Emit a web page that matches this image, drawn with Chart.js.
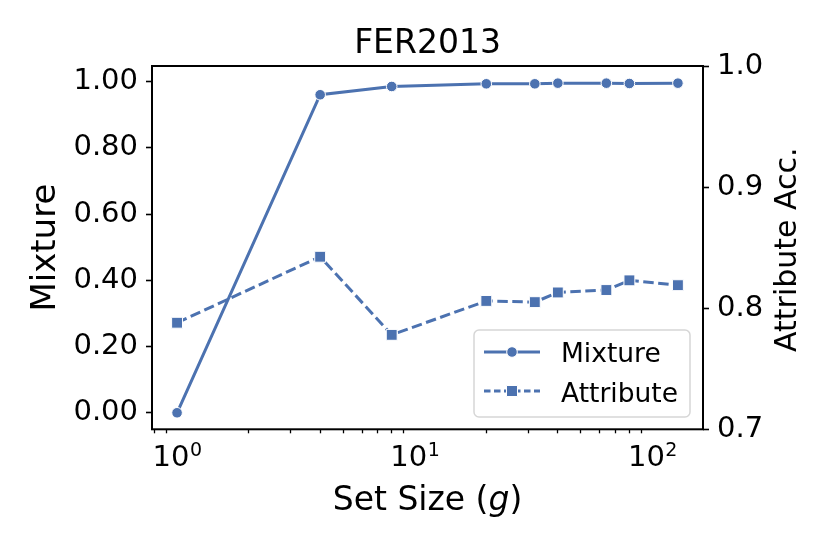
<!DOCTYPE html>
<html>
<head>
<meta charset="utf-8">
<script src="https://cdn.jsdelivr.net/npm/chart.js@4/dist/chart.umd.min.js"></script>
<style>
  html, body { margin: 0; padding: 0; background: #fff; }
</style>
</head>
<body>
<canvas id="fer" width="830" height="554"></canvas>
<script>
// values
const setSizes = [1, 4, 8, 20, 32, 40, 64, 80, 128];
const mixture = [0.000, 0.960, 0.985, 0.993, 0.993, 0.995, 0.995, 0.994, 0.995];
const attribute = [0.788, 0.8425, 0.778, 0.806, 0.805, 0.813, 0.815, 0.823, 0.819];

const leftTicks = [0, 0.2, 0.4, 0.6, 0.8, 1.0];
const rightTicks = [0.7, 0.8, 0.9, 1.0];
const xMajor = [1, 10, 100];
const xMinor = [0.8, 0.9, 2, 3, 4, 5, 6, 7, 8, 9, 20, 30, 40, 50, 60, 70, 80, 90];
const xExp = { 1: '0', 10: '1', 100: '2' };

const blue = '#4c72b0';
const FONT = '"DejaVu Sans"';

Chart.defaults.font.family = 'DejaVu Sans';
Chart.defaults.color = '#000';

const pts = (ys) => setSizes.map((x, i) => ({ x: x, y: ys[i] }));

// frame, titles, log tick labels and legend, matplotlib style
const decor = {
  id: 'decor',
  afterDraw(chart) {
    const { ctx, chartArea: a } = chart;
    const cx = (a.left + a.right) / 2;
    const cy = (a.top + a.bottom) / 2;
    ctx.save();
    ctx.strokeStyle = '#000';
    ctx.lineWidth = 2;
    ctx.strokeRect(a.left, a.top, a.right - a.left, a.bottom - a.top);

    ctx.fillStyle = '#000';
    ctx.textBaseline = 'alphabetic';
    ctx.textAlign = 'left';

    // 10^n labels on the log axis
    const xs = chart.scales.x;
    xMajor.forEach(v => {
      const px = xs.getPixelForValue(v);
      ctx.font = '29px ' + FONT;
      const wb = ctx.measureText('10').width;
      ctx.font = '19px ' + FONT;
      const we = ctx.measureText(xExp[v]).width;
      const x0 = px - (wb + we) / 2;
      ctx.font = '29px ' + FONT;
      ctx.fillText('10', x0, 466);
      ctx.font = '19px ' + FONT;
      ctx.fillText(xExp[v], x0 + wb + 0.5, 456);
    });

    ctx.textAlign = 'center';
    ctx.font = '33px ' + FONT;
    ctx.fillText('FER2013', cx, 53);

    // x title with italic g
    const normal = '33px ' + FONT, italic = 'italic 33px ' + FONT;
    ctx.textAlign = 'left';
    ctx.font = normal;
    const w1 = ctx.measureText('Set Size (').width;
    const w3 = ctx.measureText(')').width;
    ctx.font = italic;
    const w2 = ctx.measureText('g').width;
    let x = cx - (w1 + w2 + w3) / 2;
    ctx.font = normal; ctx.fillText('Set Size (', x, 510); x += w1;
    ctx.font = italic; ctx.fillText('g', x, 510); x += w2;
    ctx.font = normal; ctx.fillText(')', x, 510);

    ctx.textAlign = 'center';
    ctx.save();
    ctx.translate(55, cy);
    ctx.rotate(-Math.PI / 2);
    ctx.font = '34px ' + FONT;
    ctx.fillText('Mixture', 0, 0);
    ctx.restore();

    ctx.save();
    ctx.translate(796, cy + 2);
    ctx.rotate(-Math.PI / 2);
    ctx.font = '30px ' + FONT;
    ctx.fillText('Attribute Acc.', 0, 0);
    ctx.restore();

    // legend
    ctx.beginPath();
    ctx.roundRect(474, 330, 216, 87, 5);
    ctx.fillStyle = 'rgba(255,255,255,0.8)';
    ctx.fill();
    ctx.strokeStyle = '#d6d6d6';
    ctx.lineWidth = 1.5;
    ctx.stroke();

    ctx.strokeStyle = blue;
    ctx.fillStyle = blue;
    ctx.lineWidth = 3;
    ctx.beginPath(); ctx.moveTo(484, 352); ctx.lineTo(540, 352); ctx.stroke();
    ctx.setLineDash([6.5, 3.5]);
    ctx.beginPath(); ctx.moveTo(484, 391); ctx.lineTo(540, 391); ctx.stroke();
    ctx.setLineDash([]);
    ctx.strokeStyle = '#fff';
    ctx.lineWidth = 1;
    ctx.beginPath(); ctx.arc(512, 352, 5.3, 0, Math.PI * 2); ctx.fill(); ctx.stroke();
    ctx.beginPath(); ctx.rect(506.5, 385.5, 11, 11); ctx.fill(); ctx.stroke();

    ctx.fillStyle = '#000';
    ctx.textAlign = 'left';
    ctx.font = '26.5px ' + FONT;
    ctx.fillText('Mixture', 561, 361.5);
    ctx.fillText('Attribute', 561, 401.5);
    ctx.restore();
  }
};

new Chart(document.getElementById('fer'), {
  type: 'line',
  data: {
    datasets: [
      {
        label: 'Mixture',
        data: pts(mixture),
        yAxisID: 'y',
        order: 1,
        borderColor: blue,
        borderWidth: 3,
        pointStyle: 'circle',
        pointRadius: 5.3,
        pointBackgroundColor: blue,
        pointBorderColor: '#fff',
        pointBorderWidth: 1,
        tension: 0
      },
      {
        label: 'Attribute',
        data: pts(attribute),
        yAxisID: 'y1',
        order: 0,
        borderColor: blue,
        borderWidth: 3,
        borderDash: [10.5, 4.5],
        pointStyle: 'rect',
        pointRadius: 7.7,
        pointBackgroundColor: blue,
        pointBorderColor: '#fff',
        pointBorderWidth: 1,
        tension: 0
      }
    ]
  },
  options: {
    responsive: false,
    animation: false,
    events: [],
    layout: { padding: { top: 66, left: 0, right: 0, bottom: 0 } },
    plugins: {
      legend: { display: false },
      tooltip: { enabled: false }
    },
    scales: {
      x: {
        type: 'logarithmic',
        min: 0.7845,
        max: 163.2,
        border: { display: false },
        grid: {
          drawOnChartArea: false,
          tickLength: 4,
          tickWidth: 1.3,
          tickColor: (c) => xMajor.includes(c.tick && c.tick.value) ? 'rgba(0,0,0,0)' : '#000'
        },
        afterBuildTicks: (s) => {
          s.ticks = [...xMinor, ...xMajor].sort((p, q) => p - q).map(v => ({ value: v, major: xMajor.includes(v) }));
        },
        afterFit: (s) => { s.height = 124.7; },
        ticks: {
          autoSkip: false,
          maxRotation: 0,
          padding: 6,
          font: { size: 28 },
          callback: () => ''
        }
      },
      y: {
        position: 'left',
        min: -0.0499,
        max: 1.0468,
        border: { display: false },
        grid: { drawOnChartArea: false, tickLength: 6, tickWidth: 1.6, tickColor: '#000' },
        afterBuildTicks: (s) => { s.ticks = leftTicks.map(v => ({ value: v })); },
        afterFit: (s) => { s.width = 152; },
        ticks: { padding: 8, font: { size: 29 }, callback: (v) => v.toFixed(2) }
      },
      y1: {
        position: 'right',
        min: 0.7,
        max: 1.0,
        border: { display: false },
        grid: { drawOnChartArea: false, tickLength: 6, tickWidth: 1.6, tickColor: '#000' },
        afterBuildTicks: (s) => { s.ticks = rightTicks.map(v => ({ value: v })); },
        afterFit: (s) => { s.width = 127; },
        ticks: { padding: 8, font: { size: 29 }, callback: (v) => v.toFixed(1) }
      }
    }
  },
  plugins: [decor]
});
</script>
</body>
</html>
